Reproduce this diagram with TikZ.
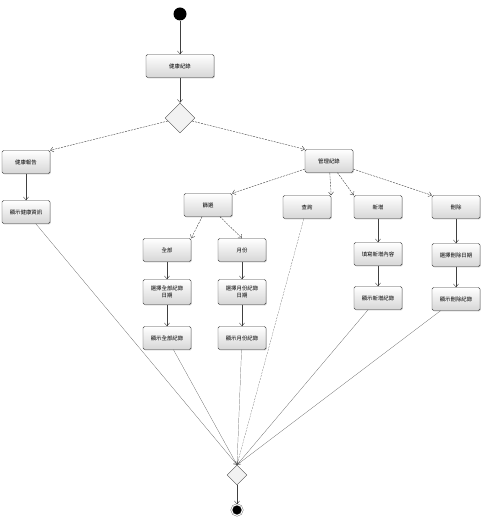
\documentclass[tikz,border=0pt]{standalone}
\usepackage{fontspec}
\setmainfont{Noto Sans CJK TC}
\usetikzlibrary{
    shapes.geometric,
    shadows,
    arrows.meta
}
\tikzset{
    >={Straight Barb[length=3pt,width=5pt]},
    act/.style={
        draw=black!75,
        rounded corners=1.5pt,
        top color=white,
        bottom color=black!16,
        drop shadow={shadow xshift=0.8pt,shadow yshift=-0.8pt,opacity=0.4},
        minimum width=48pt,
        minimum height=23pt,
        align=center,
        font=\fontsize{5.4}{6.4}\selectfont
    },
    dia/.style={
        diamond,
        draw=black!70,
        fill=black!5,
        minimum size=30pt,
        inner sep=0pt
    },
    startnode/.style={
        circle,
        fill=black,
        minimum size=13pt,
        inner sep=0pt
    },
    endnode/.style={
        circle,
        fill=black,
        draw=black!60,
        double=white,
        double distance=1pt,
        minimum size=11pt,
        inner sep=0pt
    },
    flow/.style={->,black!75,thin},
    opt/.style={->,black!75,thin,dash pattern=on 2pt off 1pt},
    tofin/.style={->,black!70,very thin}
}

\begin{document}
\begin{tikzpicture}[
    x=1pt,
    y=-1pt
]
    \useasboundingbox (0,0) rectangle (482,529);

    % Inicio
    \node[startnode] (ini) at (180,14) {};
    \node[act, minimum width=68pt] (rec) at (180,66) {健康紀錄};
    \node[dia] (opc) at (180,118) {};

    % Rama izquierda
    \node[act] (rep) at (26,162) {健康報告};
    \node[act] (info) at (26,212) {顯示健康資訊};

    % Rama derecha
    \node[act] (adm) at (329,161) {管理紀錄};

    \node[act] (fil) at (208,205) {篩選};
    \node[act] (qry) at (307,207) {查詢};
    \node[act] (add) at (378,207) {新增};
    \node[act] (del) at (456,207) {刪除};

    \node[act] (all) at (167,250) {全部};
    \node[act] (mon) at (242,250) {月份};

    \node[act, minimum height=25pt] (selall) at (167,292) {選擇全部紀錄\\日期};
    \node[act, minimum height=25pt] (selmon) at (242,292) {選擇月份紀錄\\日期};
    \node[act] (shwall) at (167,338) {顯示全部紀錄};
    \node[act] (shwmon) at (242,338) {顯示月份紀錄};

    \node[act] (fill) at (378,254) {填寫新增內容};
    \node[act] (shwadd) at (378,298) {顯示新增紀錄};
    \node[act] (seldel) at (456,255) {選擇刪除日期};
    \node[act] (shwdel) at (456,299) {顯示刪除紀錄};

    % Fin
    \node[dia, minimum size=20pt] (mrg) at (237,475) {};
    \node[endnode] (fin) at (237,510) {};

    % Transiciones
    \draw[flow] (ini) -- (rec);
    \draw[flow] (rec) -- (opc);
    \draw[opt] (opc) -- (rep.north east);
    \draw[opt] (opc) -- (adm.north west);
    \draw[flow] (rep) -- (info);

    \draw[opt] (adm) -- (fil.north east);
    \draw[opt] (adm) -- (qry.north east);
    \draw[opt] (adm) -- (add.north west);
    \draw[opt] (adm) -- (del.north west);

    \draw[opt] (fil) -- (all.north east);
    \draw[opt] (fil) -- (mon.north);
    \draw[flow] (all) -- (selall);
    \draw[flow] (mon) -- (selmon);
    \draw[flow] (selall) -- (shwall);
    \draw[flow] (selmon) -- (shwmon);

    \draw[flow] (add) -- (fill);
    \draw[flow] (fill) -- (shwadd);
    \draw[flow] (del) -- (seldel);
    \draw[flow] (seldel) -- (shwdel);

    \draw[tofin] (info) -- (mrg.north);
    \draw[tofin] (shwall) -- (mrg.north);
    \draw[tofin] (shwmon) -- (mrg.north);
    \draw[tofin, dash pattern=on 2pt off 1pt] (qry) -- (mrg.north);
    \draw[tofin] (shwadd) -- (mrg.north);
    \draw[tofin] (shwdel) -- (mrg.north);
    \draw[flow] (mrg) -- (fin);

\end{tikzpicture}
\end{document}
